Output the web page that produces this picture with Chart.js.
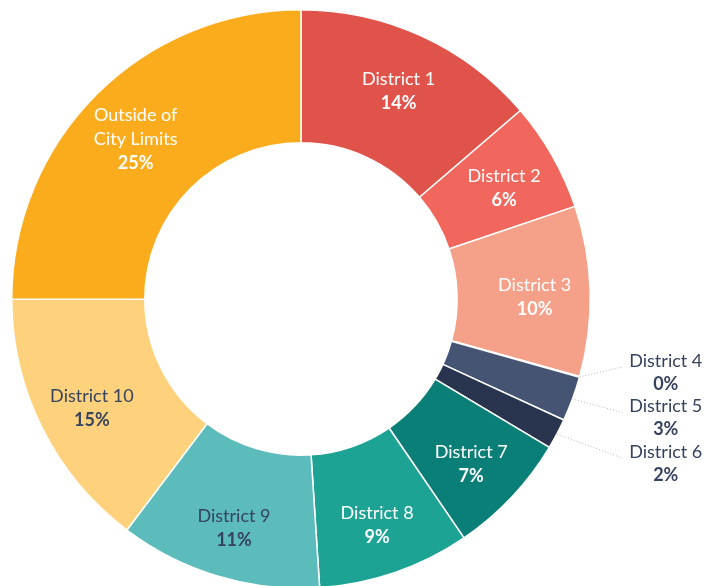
<!DOCTYPE html>
<html><head><meta charset="utf-8">
<script src="https://cdn.jsdelivr.net/npm/chart.js@4/dist/chart.umd.min.js"></script>
<style>html,body{margin:0;padding:0;background:#fff;overflow:hidden}
#wrap{width:711px;height:600px;position:relative}</style>
</head><body><div id="wrap"><canvas id="c" width="711" height="600"></canvas></div>
<script>
const categories = ['District 1','District 2','District 3','District 4','District 5','District 6','District 7','District 8','District 9','District 10','Outside of City Limits'];
const labelLines = [['District 1'],['District 2'],['District 3'],['District 4'],['District 5'],['District 6'],['District 7'],['District 8'],['District 9'],['District 10'],['Outside of','City Limits']];
const values = [13.7, 6.1, 9.5, 0.05, 2.5, 1.7, 6.9, 8.5, 11.3, 14.7, 25];
const pctLabels = ['14%','6%','10%','0%','3%','2%','7%','9%','11%','15%','25%'];
const sliceColors = ['#E0534B','#F2675D','#F5A089','#6E7C99','#465474','#29344E','#0A7F78','#1CA394','#5CBCBB','#FED17C','#FBAC1D'];
const textColors = ['#fff','#fff','#fff','#36435E','#36435E','#36435E','#fff','#fff','#36435E','#36435E','#fff'];
const outsideLabel = [false,false,false,true,true,true,false,false,false,false,false];

const FONT = 'Lato, "Open Sans", sans-serif';

const labelPlugin = {
  id: 'sliceLabels',
  afterDatasetsDraw(chart) {
    const ctx = chart.ctx;
    const arcs = chart.getDatasetMeta(0).data;
    const lh = 24;
    const outs = [];
    ctx.save();
    ctx.textAlign = 'center';
    ctx.textBaseline = 'middle';
    arcs.forEach((arc, i) => {
      const p = arc.getProps(['x','y','startAngle','endAngle','innerRadius','outerRadius'], true);
      const a = (p.startAngle + p.endAngle) / 2;
      if (outsideLabel[i]) {
        outs.push({i, a, p, ny: p.y + (p.outerRadius + 26) * Math.sin(a)});
        return;
      }
      const r = (p.innerRadius + p.outerRadius) / 2 + 11;
      const cx = p.x + r * Math.cos(a), cy = p.y + r * Math.sin(a) + 5;
      const lines = labelLines[i].length + 1;
      let y = cy - (lines - 1) * lh / 2;
      ctx.fillStyle = textColors[i];
      ctx.font = '18px ' + FONT;
      labelLines[i].forEach(t => { ctx.fillText(t, cx, y); y += lh; });
      ctx.font = 'bold 18px ' + FONT;
      ctx.fillText(pctLabels[i], cx, y);
    });
    // outside labels with leader lines
    outs.sort((m, n) => m.ny - n.ny);
    const gap = 45.5;
    const mean = outs.reduce((s, o) => s + o.ny, 0) / (outs.length || 1);
    outs.forEach((o, k) => { o.y = k === 0 ? o.ny : Math.max(o.ny, outs[k-1].y + gap); });
    const mean2 = outs.reduce((s, o) => s + o.y, 0) / (outs.length || 1);
    outs.forEach(o => { o.y += mean - mean2; });
    outs.forEach(o => {
      const p = o.p;
      const sx = p.x + p.outerRadius * Math.cos(o.a), sy = p.y + p.outerRadius * Math.sin(o.a);
      const ex = p.x + p.outerRadius + 32;
      ctx.save();
      ctx.strokeStyle = '#b5b5b5';
      ctx.lineWidth = 1;
      ctx.setLineDash([1, 2]);
      ctx.beginPath(); ctx.moveTo(sx, sy); ctx.lineTo(ex, o.y); ctx.stroke();
      ctx.restore();
      ctx.font = '18px ' + FONT;
      const w = ctx.measureText(labelLines[o.i][0]).width;
      const tx = ex + 7 + w / 2;
      ctx.fillStyle = textColors[o.i];
      ctx.fillText(labelLines[o.i][0], tx, o.y - 6);
      ctx.font = 'bold 18px ' + FONT;
      ctx.fillText(pctLabels[o.i], tx, o.y - 6 + lh - 1);
    });
    ctx.restore();
  }
};

new Chart(document.getElementById('c'), {
  type: 'doughnut',
  data: {
    labels: categories,
    datasets: [{
      data: values,
      backgroundColor: sliceColors,
      borderColor: '#ffffff',
      borderWidth: 1.5,
      hoverOffset: 0
    }]
  },
  options: {
    responsive: false,
    animation: false,
    cutout: '54%',
    layout: { padding: { left: 11, top: 9, right: 120, bottom: 11 } },
    plugins: { legend: { display: false }, tooltip: { enabled: false } },
    events: []
  },
  plugins: [labelPlugin]
});
</script>
</body></html>
